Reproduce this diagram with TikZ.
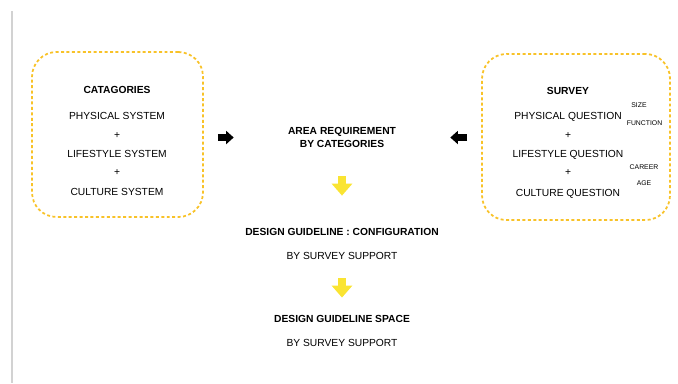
\documentclass[tikz,border=0pt]{standalone}
\usepackage{fontspec}
\setmainfont{Liberation Sans}
\usepackage{xcolor}
\usetikzlibrary{
    arrows.meta,
    positioning,
    calc
}

\definecolor{frameyellow}{RGB}{248,194,40}
\definecolor{flowyellow}{RGB}{250,228,50}

\begin{document}
\begin{tikzpicture}[
    x=0.02cm, y=-0.02cm,
    txt/.style={font=\fontsize{5.85pt}{7.4pt}\selectfont, inner sep=0pt},
    heading/.style={txt, font=\fontsize{5.85pt}{7.4pt}\selectfont\bfseries},
    tag/.style={font=\fontsize{3.9pt}{4.5pt}\selectfont, inner sep=0pt},
    boxframe/.style={
        draw=frameyellow,
        line width=1pt,
        dash pattern=on 1.7pt off 1.4pt,
        rounded corners=14pt
    },
    blkarrow/.style={-{Triangle[length=4.3pt, width=7.4pt]}, line width=3.6pt, black},
    yarrow/.style={-{Triangle[length=6.8pt, width=11.4pt]}, line width=5.1pt, flowyellow}
]
\useasboundingbox (0,0) rectangle (678,383);

% Margin rule
\draw[gray!35, line width=0.6pt] (12,11) -- (12,383);

% ===== Categories box =====
\node[boxframe, minimum width=97.3pt, minimum height=93.9pt] (catbox) at (117.5,134.5) {};
\node[heading] (cattitle) at (117,90) {CATAGORIES};
\node[txt] (physys) at (117,116) {PHYSICAL SYSTEM};
\node[txt] (plusa) at (117,136) {+};
\node[txt] (lifesys) at (117,154) {LIFESTYLE SYSTEM};
\node[txt] (plusb) at (117,173) {+};
\node[txt] (culsys) at (117,192) {CULTURE SYSTEM};

% ===== Survey box =====
\node[boxframe, minimum width=107pt, minimum height=94.5pt] (surveybox) at (576,137) {};
\node[heading] (survtitle) at (568,91) {SURVEY};
\node[txt] (phyq) at (568,116.5) {PHYSICAL QUESTION};
\node[txt] (plusc) at (568,136) {+};
\node[txt] (lifeq) at (568,154.5) {LIFESTYLE QUESTION};
\node[txt] (plusd) at (568,173) {+};
\node[txt] (culq) at (568,193.5) {CULTURE QUESTION};

% Question tags
\node[tag] (size) at (639,105) {SIZE};
\node[tag] (function) at (644.5,123) {FUNCTION};
\node[tag] (career) at (644,167) {CAREER};
\node[tag] (age) at (644,183) {AGE};

% ===== Flow =====
\node[heading, align=center, minimum width=122.9pt, minimum height=22.8pt] (area) at (342,137.5)
    {AREA REQUIREMENT\\BY CATEGORIES};

\node[heading, minimum height=11.4pt] (guideconf) at (342,232) {DESIGN GUIDELINE : CONFIGURATION};
\node[txt] (supporta) at (342,256) {BY SURVEY SUPPORT};

\node[heading, minimum height=11.4pt] (guidespace) at (342,319) {DESIGN GUIDELINE SPACE};
\node[txt] (supportb) at (342,343) {BY SURVEY SUPPORT};

% Arrows into the area node
\draw[blkarrow, shorten <=8pt] (catbox.east |- area.west) -- (area.west);
\draw[blkarrow, shorten <=8pt] (surveybox.west |- area.east) -- (area.east);

% Arrows down the flow
\draw[yarrow, shorten <=10.5pt, shorten >=14.8pt] (area.south) -- (guideconf.north);
\draw[yarrow, shorten <=10.5pt, shorten >=6.3pt] (supporta.south) -- (guidespace.north);

\end{tikzpicture}
\end{document}
